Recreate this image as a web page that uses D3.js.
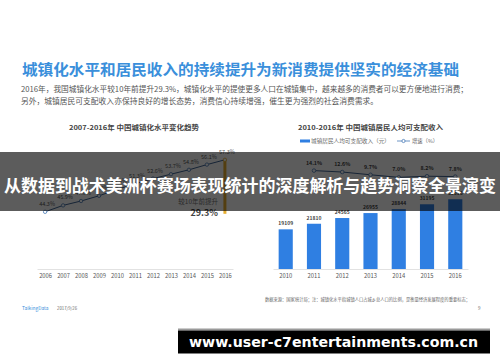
<!DOCTYPE html>
<html><head><meta charset="utf-8">
<script src="https://cdn.jsdelivr.net/npm/d3@7"></script>
<style>body{margin:0;background:#fff}svg{display:block}</style>
</head><body>
<script>
// ---- data ----
const urbanYears = ["2006","2007","2008","2009","2010","2011","2012","2013","2014","2015","2016"];
const urbanRates = [44.3,45.9,47.0,48.3,49.9,51.3,52.6,53.7,54.8,56.1,57.3];
const incomeYears = ["2010","2011","2012","2013","2014","2015","2016"];
const incomes = [19109,21810,24565,26955,28844,31195,33616];
const growthYears = ["2011","2012","2013","2014","2015","2016"];
const growthRates = [14.1,12.6,9.7,7.0,8.2,7.8];
const titleText = "城镇化水平和居民收入的持续提升为新消费提供坚实的经济基础";
const paraLines = ["2016年，我国城镇化水平较10年前提升29.3%，城镇化水平的提使更多人口在城镇集中，越来越多的消费者可以更方便地进行消费；",
                   "另外，城镇居民可支配收入亦保持良好的增长态势，消费信心持续增强，催生更为强烈的社会消费需求。"];
const leftTitle = "2007-2016年 中国城镇化水平变化趋势";
const rightTitle = "2010-2016年 中国城镇居民人均可支配收入";
const legendLabels = ["城镇居民人均可支配收入（元）","增速（%）"];
const riseLabel = "较10年前提升";
const riseValue = "29.3%";
const sourceText = "数据来源：国家统计局；注：城镇化水平指城镇人口占城乡总人口的比例，是衡量经济发展程度的重要标志；";
const bannerText = "从数据到战术美洲杯赛场表现统计的深度解析与趋势洞察全景演变";
const urlText = "www.user-c7entertainments.com.cn";

const W = 500, H = 362;
const FONT = "'Noto Sans CJK SC','Noto Sans',sans-serif";
const svg = d3.select("body").append("svg").attr("width", W).attr("height", H)
  .style("font-family", FONT);

// Title & paragraph
svg.append("text").attr("x", 22).attr("y", 75).attr("font-size", 15).attr("font-weight", "bold")
  .attr("fill", "#3a8fdb").attr("textLength", 437).attr("lengthAdjust", "spacingAndGlyphs").text(titleText);
svg.append("text").attr("x", 21).attr("y", 91.5).attr("font-size", 7.5).attr("fill", "#555")
  .attr("textLength", 447).attr("lengthAdjust", "spacingAndGlyphs").text(paraLines[0]);
svg.append("text").attr("x", 21).attr("y", 104).attr("font-size", 7.5).attr("fill", "#555")
  .attr("textLength", 357).attr("lengthAdjust", "spacingAndGlyphs").text(paraLines[1]);

// Chart titles
svg.append("text").attr("x", 69).attr("y", 129.5).attr("font-size", 6.5).attr("font-weight", "bold")
  .attr("fill", "#444").attr("textLength", 130).attr("lengthAdjust", "spacingAndGlyphs").text(leftTitle);
svg.append("text").attr("x", 298).attr("y", 129.5).attr("font-size", 6.5).attr("font-weight", "bold")
  .attr("fill", "#444").attr("textLength", 145).attr("lengthAdjust", "spacingAndGlyphs").text(rightTitle);

// ---- Left line chart ----
const xL = d3.scalePoint().domain(urbanYears).range([37, 233]).padding(0.45);
const yL = d3.scaleLinear().domain([30, 60]).range([269, 149]);
const axL = svg.append("g").attr("transform", "translate(0,269)")
  .call(d3.axisBottom(xL).tickSize(0).tickPadding(5));
axL.select(".domain").attr("stroke", "#e2e2e2");
axL.selectAll("text").attr("font-size", 5.8).attr("fill", "#555").attr("font-family", FONT);

// gold rise bar
const last = urbanRates.length - 1;
svg.append("rect").attr("x", xL(urbanYears[last]) - 1.5).attr("width", 3)
  .attr("y", yL(urbanRates[last])).attr("height", yL(urbanRates[0]) - yL(urbanRates[last]) + 2)
  .attr("fill", "#e6ad2e");

svg.append("path").datum(urbanRates)
  .attr("d", d3.line().x((d, i) => xL(urbanYears[i])).y(d => yL(d)))
  .attr("fill", "none").attr("stroke", "#3f6494").attr("stroke-width", 1);
svg.selectAll(".lpt").data(urbanRates).join("circle")
  .attr("cx", (d, i) => xL(urbanYears[i])).attr("cy", d => yL(d)).attr("r", 1.7)
  .attr("fill", "#fff").attr("stroke", (d, i) => i === last ? "#e6ad2e" : "#4a7bb7").attr("stroke-width", 0.8);
svg.selectAll(".llab").data(urbanRates).join("text")
  .attr("x", (d, i) => xL(urbanYears[i]) + 2).attr("y", d => yL(d) - 6)
  .attr("text-anchor", "middle").attr("font-size", 5.5).attr("fill", "#555").text(d => d.toFixed(1) + "%");

svg.append("text").attr("x", 218).attr("y", 204).attr("text-anchor", "end").attr("font-size", 6.5)
  .attr("fill", "#777").text(riseLabel);
svg.append("text").attr("x", 218).attr("y", 216).attr("text-anchor", "end").attr("font-size", 9)
  .attr("font-weight", "bold").attr("fill", "#444").text(riseValue);

// ---- Right bar chart ----
const xR = d3.scaleBand().domain(incomeYears).range([273, 468]).paddingInner(0.5).paddingOuter(0.2);
const yR = d3.scaleLinear().domain([0, 40000]).range([269, 186]);
const yG = d3.scaleLinear().domain([0, 20]).range([184, 165]);

svg.selectAll(".bar").data(incomes).join("rect")
  .attr("x", (d, i) => xR(incomeYears[i])).attr("width", xR.bandwidth())
  .attr("y", d => yR(d)).attr("height", d => yR(0) - yR(d)).attr("fill", "#2f7fe2");
svg.selectAll(".blab").data(incomes).join("text")
  .attr("x", (d, i) => xR(incomeYears[i]) + xR.bandwidth() / 2).attr("y", d => yR(d) - 4)
  .attr("text-anchor", "middle").attr("font-size", 5).attr("font-weight", "bold").attr("fill", "#444").text(d => d);

const axR = svg.append("g").attr("transform", "translate(0,269)")
  .call(d3.axisBottom(xR).tickSize(0).tickPadding(5));
axR.select(".domain").attr("stroke", "#e2e2e2");
axR.selectAll("text").attr("font-size", 5.8).attr("fill", "#555").attr("font-family", FONT);

const gx = y => xR(y) + xR.bandwidth() / 2;
svg.append("path").datum(growthRates)
  .attr("d", d3.line().x((d, i) => gx(growthYears[i])).y(d => yG(d)))
  .attr("fill", "none").attr("stroke", "#3f6494").attr("stroke-width", 1);
svg.selectAll(".gpt").data(growthRates).join("circle")
  .attr("cx", (d, i) => gx(growthYears[i])).attr("cy", d => yG(d)).attr("r", 1.8)
  .attr("fill", "#fff").attr("stroke", "#4a7bb7").attr("stroke-width", 0.8);
svg.selectAll(".glab").data(growthRates).join("text")
  .attr("x", (d, i) => gx(growthYears[i])).attr("y", d => yG(d) - 6)
  .attr("text-anchor", "middle").attr("font-size", 5.3).attr("font-weight", "bold").attr("fill", "#444").text(d => d.toFixed(1) + "%");

// legend
svg.append("rect").attr("x", 300).attr("y", 139.5).attr("width", 10).attr("height", 3).attr("fill", "#2f7fe2");
svg.append("text").attr("x", 311).attr("y", 143).attr("font-size", 5.3).attr("fill", "#666")
  .attr("textLength", 79).attr("lengthAdjust", "spacingAndGlyphs").text(legendLabels[0]);
svg.append("line").attr("x1", 397).attr("x2", 410).attr("y1", 141).attr("y2", 141).attr("stroke", "#4a7bb7").attr("stroke-width", 0.8);
svg.append("circle").attr("cx", 403.5).attr("cy", 141).attr("r", 1.6).attr("fill", "#fff").attr("stroke", "#4a7bb7").attr("stroke-width", 0.8);
svg.append("text").attr("x", 412).attr("y", 143).attr("font-size", 5.3).attr("fill", "#666").text(legendLabels[1]);

// footer
svg.append("text").attr("x", 22).attr("y", 309.5).attr("font-size", 4.8).attr("fill", "#3a8fdb").text("TalkingData");
svg.append("text").attr("x", 57).attr("y", 309.5).attr("font-size", 4.3).attr("fill", "#666").text("2017/9/26");
svg.append("text").attr("x", 265).attr("y", 300.5).attr("font-size", 4.3).attr("fill", "#666")
  .attr("textLength", 205).attr("lengthAdjust", "spacingAndGlyphs").text(sourceText);
svg.append("text").attr("x", 478).attr("y", 310).attr("font-size", 4.5).attr("fill", "#666").text("9");

// overlay banner
svg.append("rect").attr("x", 0).attr("y", 152).attr("width", W).attr("height", 59).attr("fill", "rgba(0,0,0,0.64)");
svg.append("text").attr("x", 250).attr("y", 191.5).attr("text-anchor", "middle").attr("font-size", 17)
  .attr("font-weight", "bold").attr("fill", "#fff")
  .attr("textLength", 492).attr("lengthAdjust", "spacingAndGlyphs").text(bannerText);

// url box
svg.append("rect").attr("x", 178).attr("y", 328.5).attr("width", 312).attr("height", 2).attr("fill", "#9a9a9a");
svg.append("rect").attr("x", 178).attr("y", 330.5).attr("width", 312).attr("height", 23).attr("fill", "#000");
svg.append("text").attr("x", 333.5).attr("y", 347).attr("text-anchor", "middle").attr("font-size", 14)
  .attr("font-weight", "bold").attr("fill", "#fff").attr("font-family", "'DejaVu Sans',sans-serif")
  .attr("textLength", 289).attr("lengthAdjust", "spacingAndGlyphs").text(urlText);
</script>
</body></html>
